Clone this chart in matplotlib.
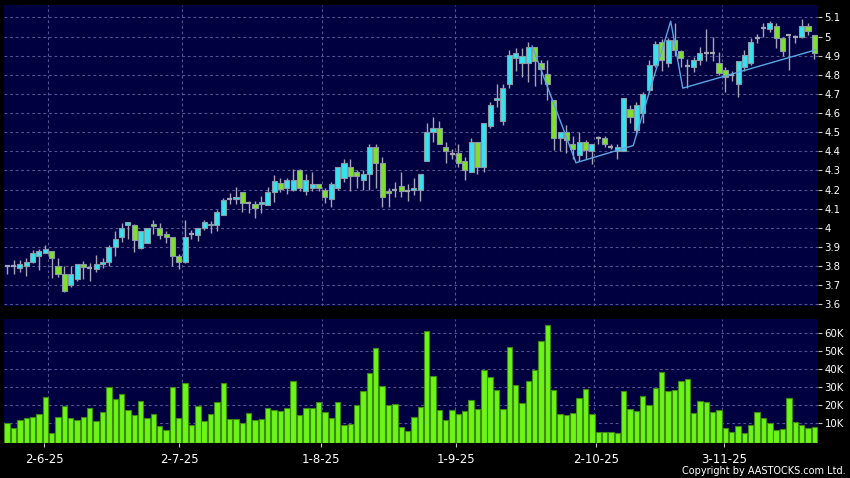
import matplotlib
matplotlib.use("Agg")
import matplotlib.pyplot as plt
import numpy as np

# daily candles, 128 sessions
opens = [3.80, 3.80, 3.79, 3.80, 3.82, 3.85, 3.87, 3.88, 3.80, 3.76,
         3.70, 3.73, 3.81, 3.79, 3.785, 3.81, 3.82, 3.90, 3.95, 4.015,
         4.015, 3.895, 3.92, 4.02, 4.00, 3.97, 3.95, 3.85, 3.82, 3.97,
         3.96, 4.00, 4.02, 4.015, 4.065, 4.15, 4.15, 4.185, 4.13, 4.125,
         4.125, 4.12, 4.185, 4.235, 4.21, 4.20, 4.30, 4.19, 4.21, 4.23,
         4.20, 4.15, 4.21, 4.26, 4.32, 4.29, 4.25, 4.28, 4.42, 4.34,
         4.19, 4.20, 4.22, 4.19, 4.20, 4.20, 4.35, 4.50, 4.52, 4.42,
         4.385, 4.39, 4.35, 4.29, 4.45, 4.32, 4.53, 4.67, 4.56, 4.75,
         4.89, 4.86, 4.86, 4.945, 4.86, 4.805, 4.67, 4.47, 4.50, 4.44,
         4.38, 4.45, 4.40, 4.47, 4.47, 4.425, 4.40, 4.40, 4.62, 4.51,
         4.60, 4.72, 4.85, 4.97, 4.86, 4.98, 4.925, 4.845, 4.84, 4.88,
         4.915, 4.915, 4.86, 4.825, 4.80, 4.75, 4.84, 4.86, 4.995, 5.045,
         5.04, 5.055, 4.99, 5.01, 5.00, 5.00, 5.055, 5.01]
highs = [3.80, 3.83, 3.83, 3.84, 3.885, 3.89, 3.91, 3.88, 3.84, 3.80,
         3.80, 3.81, 3.825, 3.815, 3.86, 3.84, 3.91, 3.985, 4.025, 4.03,
         4.02, 3.985, 4.00, 4.04, 4.025, 3.985, 3.95, 3.865, 4.04, 3.99,
         4.00, 4.04, 4.035, 4.095, 4.155, 4.18, 4.215, 4.185, 4.14, 4.14,
         4.165, 4.215, 4.275, 4.26, 4.26, 4.31, 4.31, 4.28, 4.29, 4.23,
         4.21, 4.24, 4.32, 4.36, 4.36, 4.30, 4.30, 4.44, 4.44, 4.37,
         4.21, 4.24, 4.29, 4.23, 4.26, 4.28, 4.55, 4.58, 4.56, 4.45,
         4.41, 4.44, 4.37, 4.47, 4.45, 4.55, 4.66, 4.75, 4.75, 4.93,
         4.94, 4.94, 4.97, 4.945, 4.88, 4.88, 4.67, 4.50, 4.54, 4.48,
         4.50, 4.46, 4.44, 4.48, 4.48, 4.44, 4.44, 4.68, 4.64, 4.66,
         4.71, 4.88, 4.975, 4.985, 4.99, 5.07, 4.93, 4.885, 4.895, 4.945,
         5.04, 5.00, 4.92, 4.84, 4.82, 4.87, 4.93, 4.99, 5.015, 5.07,
         5.08, 5.07, 5.00, 5.015, 5.01, 5.09, 5.07, 5.01]
lows = [3.76, 3.76, 3.77, 3.75, 3.815, 3.78, 3.87, 3.74, 3.745, 3.665,
        3.69, 3.72, 3.73, 3.72, 3.77, 3.79, 3.80, 3.85, 3.925, 3.94,
        3.875, 3.89, 3.92, 3.965, 3.94, 3.92, 3.80, 3.785, 3.815, 3.94,
        3.93, 3.99, 3.975, 3.985, 4.065, 4.125, 4.125, 4.08, 4.075, 4.05,
        4.075, 4.12, 4.135, 4.185, 4.175, 4.19, 4.19, 4.17, 4.19, 4.19,
        4.13, 4.11, 4.20, 4.24, 4.19, 4.21, 4.20, 4.20, 4.21, 4.11,
        4.11, 4.16, 4.16, 4.14, 4.17, 4.14, 4.35, 4.45, 4.44, 4.34,
        4.36, 4.32, 4.25, 4.29, 4.28, 4.29, 4.52, 4.63, 4.54, 4.73,
        4.82, 4.79, 4.76, 4.74, 4.75, 4.67, 4.405, 4.40, 4.39, 4.36,
        4.35, 4.36, 4.335, 4.44, 4.42, 4.41, 4.36, 4.40, 4.55, 4.49,
        4.55, 4.71, 4.84, 4.82, 4.84, 4.90, 4.84, 4.73, 4.815, 4.85,
        4.87, 4.87, 4.80, 4.71, 4.77, 4.685, 4.82, 4.85, 4.965, 5.00,
        5.025, 4.94, 4.90, 4.825, 4.965, 4.99, 5.01, 4.885]
closes = [3.80, 3.80, 3.81, 3.82, 3.87, 3.88, 3.89, 3.84, 3.76, 3.67,
          3.76, 3.81, 3.795, 3.79, 3.81, 3.82, 3.90, 3.94, 4.00, 4.03,
          3.935, 3.985, 4.00, 4.01, 3.96, 3.95, 3.85, 3.82, 3.95, 3.97,
          4.00, 4.03, 4.015, 4.085, 4.145, 4.15, 4.16, 4.13, 4.13, 4.105,
          4.135, 4.185, 4.245, 4.205, 4.25, 4.25, 4.21, 4.25, 4.23, 4.21,
          4.16, 4.23, 4.32, 4.34, 4.27, 4.27, 4.28, 4.42, 4.34, 4.16,
          4.18, 4.20, 4.19, 4.19, 4.21, 4.28, 4.50, 4.52, 4.44, 4.40,
          4.385, 4.34, 4.30, 4.45, 4.32, 4.55, 4.64, 4.68, 4.73, 4.905,
          4.915, 4.90, 4.945, 4.87, 4.83, 4.75, 4.47, 4.50, 4.46, 4.41,
          4.45, 4.405, 4.44, 4.47, 4.44, 4.425, 4.42, 4.68, 4.58, 4.64,
          4.70, 4.85, 4.96, 4.88, 4.98, 4.93, 4.89, 4.845, 4.88, 4.915,
          4.915, 4.915, 4.81, 4.79, 4.80, 4.87, 4.905, 4.97, 4.995, 5.045,
          5.07, 4.99, 4.925, 5.01, 5.00, 5.055, 5.03, 4.915]
volumes_k = [10, 6.8, 11.7, 12.5, 13, 15, 24.3, 4.3, 13.2, 19,
             12.8, 11.6, 13.2, 18.3, 11, 15.8, 29.6, 23.2, 25.9, 16.9,
             14.4, 21.9, 12.5, 14.8, 8.2, 5.9, 30, 12.5, 32, 8.7,
             19, 10.9, 14.6, 21.3, 32, 11.8, 12.2, 9.7, 15.3, 11.3,
             11.8, 18.4, 16.8, 16.4, 18.1, 33.1, 14, 18, 18.1, 21.3,
             15.7, 12.8, 21.3, 8.7, 9.2, 19.6, 27.6, 37.5, 51.7, 30.2,
             19.6, 20.3, 7.6, 5.2, 12.9, 18.9, 61, 36, 17, 11.2,
             17, 14.8, 16.5, 22.8, 17.8, 39, 35.5, 28.4, 17.8, 51.8,
             31.1, 20.8, 32.9, 39.4, 55.4, 64.4, 28.4, 14.8, 14.4, 15.5,
             23.5, 28.8, 14.6, 5, 5, 5, 4.5, 27.7, 17.4, 16.5,
             24.9, 19.9, 29.3, 38.3, 27.7, 28, 33.4, 34.1, 15.1, 22.2,
             21.5, 16, 17, 7.2, 5, 8.2, 4.5, 8.6, 16, 12.5,
             10, 5.9, 6.3, 23.5, 10.5, 8.6, 6.8, 7.5]

date_labels = ["2-6-25", "2-7-25", "1-8-25", "1-9-25", "2-10-25", "3-11-25"]
date_ticks = [5.8, 27.1, 49.3, 70.6, 92.6, 112.8]
date_grid = [6.5, 27.5, 49.5, 70.4, 92.4, 112.4]

# trend line drawn on the chart
zigzag_x = [82.6, 89.5, 98.5, 104.4, 106.3, 127.2]
zigzag_y = [4.95, 4.34, 4.43, 5.08, 4.73, 4.93]

price_ticks = [3.6, 3.7, 3.8, 3.9, 4.0, 4.1, 4.2, 4.3, 4.4, 4.5,
               4.6, 4.7, 4.8, 4.9, 5.0, 5.1]
vol_ticks = [10, 20, 30, 40, 50, 60]

BG = "#000040"
GRID = "#55558f"
UP = "#35e2ee"
DOWN = "#7fe02c"
EDGE = "#8c9aa6"
WICK = "#a4a4b4"
VOL = "#6cf516"
VOL_EDGE = "#3d8a12"

W, H = 850, 478
fig = plt.figure(figsize=(W / 100, H / 100), dpi=100, facecolor="black")
ax = fig.add_axes([4 / W, 1 - 306 / H, 813.5 / W, 301 / H])
axv = fig.add_axes([4 / W, 1 - 443.3 / H, 813.5 / W, 124.3 / H])

n = len(closes)
x = np.arange(n)
o = np.array(opens)
c = np.array(closes)
hi = np.array(highs)
lo = np.array(lows)

for a in (ax, axv):
    a.set_facecolor(BG)
    for s in a.spines.values():
        s.set_visible(False)
    a.set_xlim(-0.5, n - 0.5)
    for g in date_grid:
        a.axvline(g, color=GRID, lw=0.8, ls=(0, (2.5, 2.5)), zorder=0)

# price panel
for p in price_ticks:
    ax.axhline(p, color=GRID, lw=0.8, ls=(0, (2.5, 2.5)), zorder=0)
ax.vlines(x, lo, hi, color=WICK, lw=1, zorder=1)
up = c > o
dn = c < o
flat = c == o
ax.bar(x[up], (c - o)[up], bottom=o[up], width=0.8, color=UP,
       edgecolor=EDGE, lw=0.8, zorder=2)
ax.bar(x[dn], (o - c)[dn], bottom=c[dn], width=0.8, color=DOWN,
       edgecolor=EDGE, lw=0.8, zorder=2)
ax.hlines(o[flat], x[flat] - 0.4, x[flat] + 0.4, color=WICK, lw=1.6, zorder=2)
ax.plot(zigzag_x, zigzag_y, color="#5aa6e6", lw=1, zorder=3)

ax.set_ylim(3.591, 5.165)
ax.set_xticks([])
ax.yaxis.tick_right()
ax.set_yticks(price_ticks)
ax.set_yticklabels(["%g" % round(p, 1) for p in price_ticks])
ax.tick_params(axis="y", colors="#c8c8c8", labelcolor="white", length=3,
               width=0.8, pad=2, labelsize=7.3)

# volume panel
vmin = -1.5
for v in vol_ticks:
    axv.axhline(v, color=GRID, lw=0.8, ls=(0, (2.5, 2.5)), zorder=0)
axv.bar(x, np.array(volumes_k) - vmin, bottom=vmin, width=0.85, color=VOL,
        edgecolor=VOL_EDGE, lw=0.8, zorder=2)
axv.set_ylim(vmin, 67.6)
axv.yaxis.tick_right()
axv.set_yticks(vol_ticks)
axv.set_yticklabels(["%dK" % v for v in vol_ticks])
axv.tick_params(axis="y", colors="#c8c8c8", labelcolor="white", length=3,
                width=0.8, pad=2, labelsize=7.3)
axv.set_xticks(date_ticks)
axv.set_xticklabels(date_labels)
axv.tick_params(axis="x", colors="#c8c8c8", labelcolor="white", length=3,
                width=0.8, pad=4, labelsize=8.5)

fig.text(846 / W, 1 - 471.5 / H, "Copyright by AASTOCKS.com Ltd.",
         ha="right", va="center", fontsize=7, color="white")

fig.savefig("out.png", dpi=100, facecolor="black")
